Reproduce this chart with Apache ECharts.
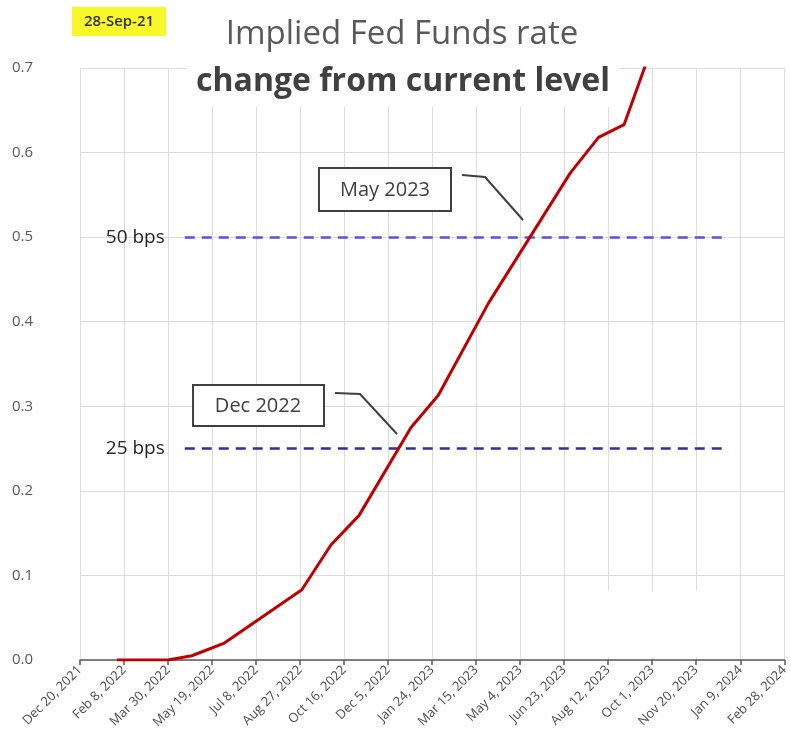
<!DOCTYPE html>
<html>
<head>
<meta charset="utf-8">
<script src="https://cdn.jsdelivr.net/npm/echarts@6/dist/echarts.min.js"></script>
<style>
html,body{margin:0;padding:0;background:#fff;}
#chart{width:791px;height:753px;}
</style>
</head>
<body>
<div id="chart"></div>
<script>
// ---- data ----
const axisStartDate = '2021-12-20';   // first tick
const tickStepDays = 50;
const axisEndDays = 800;               // Feb 28, 2024
const curveDates = ['2022-01-31','2022-03-30','2022-04-26','2022-06-02','2022-08-29','2022-10-01','2022-11-02','2022-12-31','2023-01-31','2023-03-29','2023-06-30','2023-08-01','2023-08-30','2023-10-06'];
const curveValues = [0.0, 0.0, 0.005, 0.020, 0.083, 0.136, 0.171, 0.275, 0.313, 0.422, 0.576, 0.618, 0.633, 0.74];
const thresholdValues = [0.25, 0.5];
const thresholdLabels = ['25 bps', '50 bps'];
const thresholdStart = '2022-04-18';
const thresholdEnd = '2023-12-25';
const annotationTexts = ['Dec 2022', 'May 2023'];
const dateTag = '28-Sep-21';
const titleLine1 = 'Implied Fed Funds rate';
const titleLine2 = 'change from current level';
const monthNames = ['Jan','Feb','Mar','Apr','May','Jun','Jul','Aug','Sep','Oct','Nov','Dec'];

// ---- helpers ----
const DAY = 86400000;
const t0 = Date.parse(axisStartDate + 'T00:00:00Z');
const toDays = s => Math.round((Date.parse(s + 'T00:00:00Z') - t0) / DAY);
const fmtDay = v => {
  const d = new Date(t0 + v * DAY);
  return monthNames[d.getUTCMonth()] + ' ' + d.getUTCDate() + ', ' + d.getUTCFullYear();
};
const seriesData = curveDates.map((s, i) => [toDays(s), curveValues[i]]);
const thrColors = ['#30309a', '#5252ea'];

const chart = echarts.init(document.getElementById('chart'), null, {renderer: 'canvas'});
const FONT = '"Open Sans", "Liberation Sans", sans-serif';

const option = {
  animation: false,
  backgroundColor: '#ffffff',
  grid: {left: 80, right: 4, top: 68, bottom: 93, containLabel: false},
  xAxis: {
    type: 'value',
    min: 0, max: axisEndDays, interval: tickStepDays,
    axisLine: {show: true, lineStyle: {color: '#595959', width: 1.5}},
    axisTick: {show: true, length: 5, lineStyle: {color: '#595959', width: 1.5}},
    axisLabel: {
      rotate: 45, fontSize: 13, color: '#4d4d4d', fontFamily: FONT, margin: 8,
      showMinLabel: true, showMaxLabel: true,
      formatter: v => fmtDay(v)
    },
    splitLine: {show: true, lineStyle: {color: '#dcdcdc', width: 1}}
  },
  yAxis: {
    type: 'value',
    min: 0, max: 0.7, interval: 0.1,
    axisLine: {show: false},
    axisTick: {show: false},
    axisLabel: {fontSize: 15, color: '#595959', fontFamily: FONT, margin: 47,
      formatter: v => v.toFixed(1)},
    splitLine: {show: true, lineStyle: {color: '#dcdcdc', width: 1}}
  },
  series: [
    {
      type: 'line',
      data: seriesData,
      symbol: 'none',
      clip: true,
      z: 5,
      lineStyle: {color: '#c00000', width: 3},
      markLine: {
        silent: true,
        symbol: ['none', 'none'],
        data: thresholdValues.map((v, i) => [
          {coord: [toDays(thresholdStart), v],
           lineStyle: {color: thrColors[i], width: 2.5, type: [10, 7]},
           label: {show: true, position: 'start', formatter: thresholdLabels[i], distance: 20,
                   fontSize: 19, color: '#262626', fontFamily: FONT}},
          {coord: [toDays(thresholdEnd), v]}
        ])
      }
    }
  ],
  graphic: [
    // white panel behind the title
    {type: 'rect', z: 50, shape: {x: 186, y: 8, width: 433, height: 99}, style: {fill: '#ffffff'}},
    {type: 'text', z: 51, x: 402, y: 35, style: {text: titleLine1, fill: '#595959', font: '33px ' + FONT, textAlign: 'center', textVerticalAlign: 'middle'}},
    {type: 'text', z: 51, x: 403, y: 82, style: {text: titleLine2, fill: '#404040', font: 'bold 32px ' + FONT, textAlign: 'center', textVerticalAlign: 'middle'}},
    // date tag
    {type: 'rect', z: 50, shape: {x: 72, y: 7, width: 94, height: 29}, style: {fill: '#f7f72a'}},
    {type: 'text', z: 51, x: 119, y: 22, style: {text: dateTag, fill: '#333333', font: '600 15px ' + FONT, textAlign: 'center', textVerticalAlign: 'middle'}},
    // annotation Dec 2022
    {type: 'rect', z: 50, shape: {x: 193, y: 385, width: 131, height: 41}, style: {fill: '#ffffff', stroke: '#404040', lineWidth: 2}},
    {type: 'text', z: 51, x: 258, y: 406, style: {text: annotationTexts[0], fill: '#404040', font: '20px ' + FONT, textAlign: 'center', textVerticalAlign: 'middle'}},
    {type: 'polyline', z: 50, shape: {points: [[335, 393], [360, 394], [397, 434]]}, style: {stroke: '#404040', lineWidth: 2, fill: null}},
    // annotation May 2023
    {type: 'rect', z: 50, shape: {x: 319, y: 168, width: 132, height: 43}, style: {fill: '#ffffff', stroke: '#404040', lineWidth: 2}},
    {type: 'text', z: 51, x: 385, y: 190, style: {text: annotationTexts[1], fill: '#404040', font: '20px ' + FONT, textAlign: 'center', textVerticalAlign: 'middle'}},
    {type: 'polyline', z: 50, shape: {points: [[462, 175], [485, 177], [523, 220]]}, style: {stroke: '#404040', lineWidth: 2, fill: null}},
    // blank patch at bottom right (as in source image)
    {type: 'rect', z: 1, shape: {x: 588, y: 591, width: 139, height: 66}, style: {fill: '#ffffff'}}
  ]
};
chart.setOption(option);
</script>
</body>
</html>
